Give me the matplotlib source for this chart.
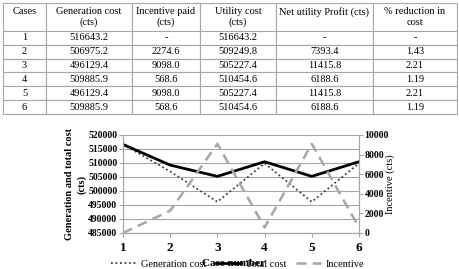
import matplotlib
matplotlib.use("Agg")
import matplotlib.pyplot as plt

# table data
col_labels = ["Cases", "Generation cost\n(cts)", "Incentive paid\n(cts)",
              "Utility cost\n(cts)", "Net utility Profit (cts)", "% reduction in\ncost"]
cases = [1, 2, 3, 4, 5, 6]
generation_cost = [516643.2, 506975.2, 496129.4, 509885.9, 496129.4, 509885.9]
incentive = [0.0, 2274.6, 9098.0, 568.6, 9098.0, 568.6]
utility_cost = [516643.2, 509249.8, 505227.4, 510454.6, 505227.4, 510454.6]
net_profit = [None, 7393.4, 11415.8, 6188.6, 11415.8, 6188.6]
reduction = [None, 1.43, 2.21, 1.19, 2.21, 1.19]

FONT = "Liberation Serif"
GRID = "#a6a6a6"

fig = plt.figure(figsize=(4.59, 2.69), dpi=100)

# ---- table ----
tax = fig.add_axes([3 / 459, 1 - 114 / 269, 454 / 459, 111 / 269])
tax.axis("off")

rows = []
for i, c in enumerate(cases):
    rows.append([
        str(c),
        f"{generation_cost[i]:.1f}",
        "-" if incentive[i] == 0 else f"{incentive[i]:.1f}",
        f"{utility_cost[i]:.1f}",
        "-" if net_profit[i] is None else f"{net_profit[i]:.1f}",
        "-" if reduction[i] is None else f"{reduction[i]:.2f}",
    ])
header = [h if "\n" in h else h + "\n " for h in col_labels]
col_w = [43, 86, 68, 76, 97, 84]
tbl = tax.table(cellText=rows, colLabels=header, cellLoc="center",
                colWidths=[w / sum(col_w) for w in col_w], bbox=[0, 0, 1, 1])
tbl.auto_set_font_size(False)
for (r, c), cell in tbl.get_celld().items():
    cell.set_edgecolor(GRID)
    cell.set_linewidth(0.8)
    cell.get_text().set_fontfamily(FONT)
    cell.get_text().set_fontsize(7.5)
    cell.set_height(2.0 if r == 0 else 1.0)

# ---- chart ----
ax = fig.add_axes([123 / 459, 1 - 233 / 269, 236 / 459, 98 / 269])
ax2 = ax.twinx()

ax.plot(cases, generation_cost, color="#404040", lw=1.3, ls=(0, (1, 1.5)),
        label="Generation cost")
ax.plot(cases, utility_cost, color="black", lw=2, label="Total cost")
ax2.plot(cases, incentive, color="#a6a6a6", lw=1.8, ls=(0, (4, 2.5)),
         label="Incentive")

ax.set_xlim(1, 6)
ax.set_ylim(485000, 520000)
ax.set_yticks(range(485000, 520001, 5000))
ax2.set_ylim(0, 10000)
ax2.set_yticks(range(0, 10001, 2000))
ax.set_xticks(cases)

ax.grid(axis="y", color=GRID, lw=0.8)
ax.set_axisbelow(True)
for a in (ax, ax2):
    for s in a.spines.values():
        s.set_color(GRID)
    a.spines["top"].set_visible(False)
    a.tick_params(colors=GRID, length=3, width=0.8)

for lab in ax.get_yticklabels() + ax2.get_yticklabels():
    lab.set_fontfamily(FONT)
    lab.set_fontweight("bold")
    lab.set_fontsize(7)
    lab.set_color("black")
for lab in ax.get_xticklabels():
    lab.set_fontfamily(FONT)
    lab.set_fontweight("bold")
    lab.set_fontsize(9.5)
    lab.set_color("black")
ax.tick_params(axis="y", pad=1)
ax2.tick_params(axis="y", pad=1)

ax.set_ylabel("Generation and total cost\n(cts)", fontfamily=FONT,
              fontweight="bold", fontsize=7.5, linespacing=1.4)
ax.yaxis.set_label_coords(-0.155, 0.5)
ax2.set_ylabel("Incentive (cts)", fontfamily=FONT, fontsize=7.5)
ax2.yaxis.set_label_coords(1.11, 0.5)
ax.set_xlabel("Case number", fontfamily=FONT, fontweight="bold", fontsize=8)
ax.xaxis.set_label_coords(0.47, -0.27)

handles = ax.get_lines() + ax2.get_lines()
fig.legend(handles, [h.get_label() for h in handles], loc="center",
           bbox_to_anchor=(0.518, 1 - 264 / 269), ncol=3, frameon=False,
           prop={"family": FONT, "size": 7.5}, handlelength=2.4,
           columnspacing=0.9, handletextpad=0.5)

fig.savefig("out.png", dpi=100)
